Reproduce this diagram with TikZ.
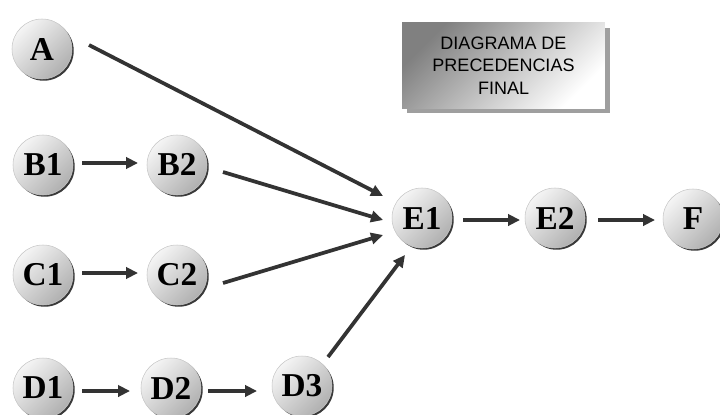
\documentclass[tikz,border=0pt]{standalone}
\usepackage{fontspec}
\setmainfont{Liberation Serif}
\newfontfamily\titlefont{Liberation Sans}
\usetikzlibrary{arrows.meta,shadows}
\begin{document}
\begin{tikzpicture}[x=0.75pt,y=-0.75pt,
  ball/.style={circle, inner sep=0pt, minimum size=45pt,
    left color=gray!8, right color=gray!62, shading angle=45,
    draw=gray!45, line width=0.4pt,
    general shadow={fill=gray!45!black, shadow xshift=1.3pt, shadow yshift=-1.3pt},
    font=\fontsize{25}{26}\selectfont\bfseries, text=black},
  arr/.style={draw=black!80, line width=2.8pt,
    -{Triangle[length=9pt,width=8.5pt]}},
  titlebox/.style={rectangle, inner sep=0pt, minimum width=152pt, minimum height=64pt,
    left color=black!50, right color=white, shading angle=45,
    general shadow={fill=gray!75, shadow xshift=3.8pt, shadow yshift=-3.8pt},
    align=center, font=\titlefont\fontsize{13.5}{17}\selectfont, text=black}
]
\useasboundingbox (0,0) rectangle (720,414);
\node[titlebox] (T) at (503.5,65.5) {DIAGRAMA DE\\PRECEDENCIAS\\FINAL};
\node[ball] (A)  at (42,49)   {A};
\node[ball] (B1) at (43,165)  {B1};
\node[ball] (B2) at (177,165) {B2};
\node[ball] (C1) at (43,275)  {C1};
\node[ball] (C2) at (177,275) {C2};
\node[ball] (D1) at (43,388)  {D1};
\node[ball] (D2) at (171,388) {D2};
\node[ball] (D3) at (302,386) {D3};
\node[ball] (E1) at (422,218) {E1};
\node[ball] (E2) at (555,218) {E2};
\node[ball] (F)  at (693,219) {F};
\draw[arr] ([shift={(47,-4)}]A.center) -- ([shift={(-39,-22)}]E1.center);
\draw[arr] ([shift={(39,-2)}]B1.center) -- ([shift={(-39,-2)}]B2.center);
\draw[arr] ([shift={(46,7)}]B2.center) -- ([shift={(-39,2)}]E1.center);
\draw[arr] ([shift={(39,-2)}]C1.center) -- ([shift={(-39,-2)}]C2.center);
\draw[arr] ([shift={(46,8)}]C2.center) -- ([shift={(-39,17)}]E1.center);
\draw[arr] ([shift={(39,3)}]D1.center) -- ([shift={(-41,3)}]D2.center);
\draw[arr] ([shift={(37,3)}]D2.center) -- ([shift={(-45,5)}]D3.center);
\draw[arr] ([shift={(26,-29)}]D3.center) -- ([shift={(-17,37)}]E1.center);
\draw[arr] ([shift={(41,2)}]E1.center) -- ([shift={(-35,2)}]E2.center);
\draw[arr] ([shift={(43,2)}]E2.center) -- ([shift={(-38,1)}]F.center);
\end{tikzpicture}
\end{document}
